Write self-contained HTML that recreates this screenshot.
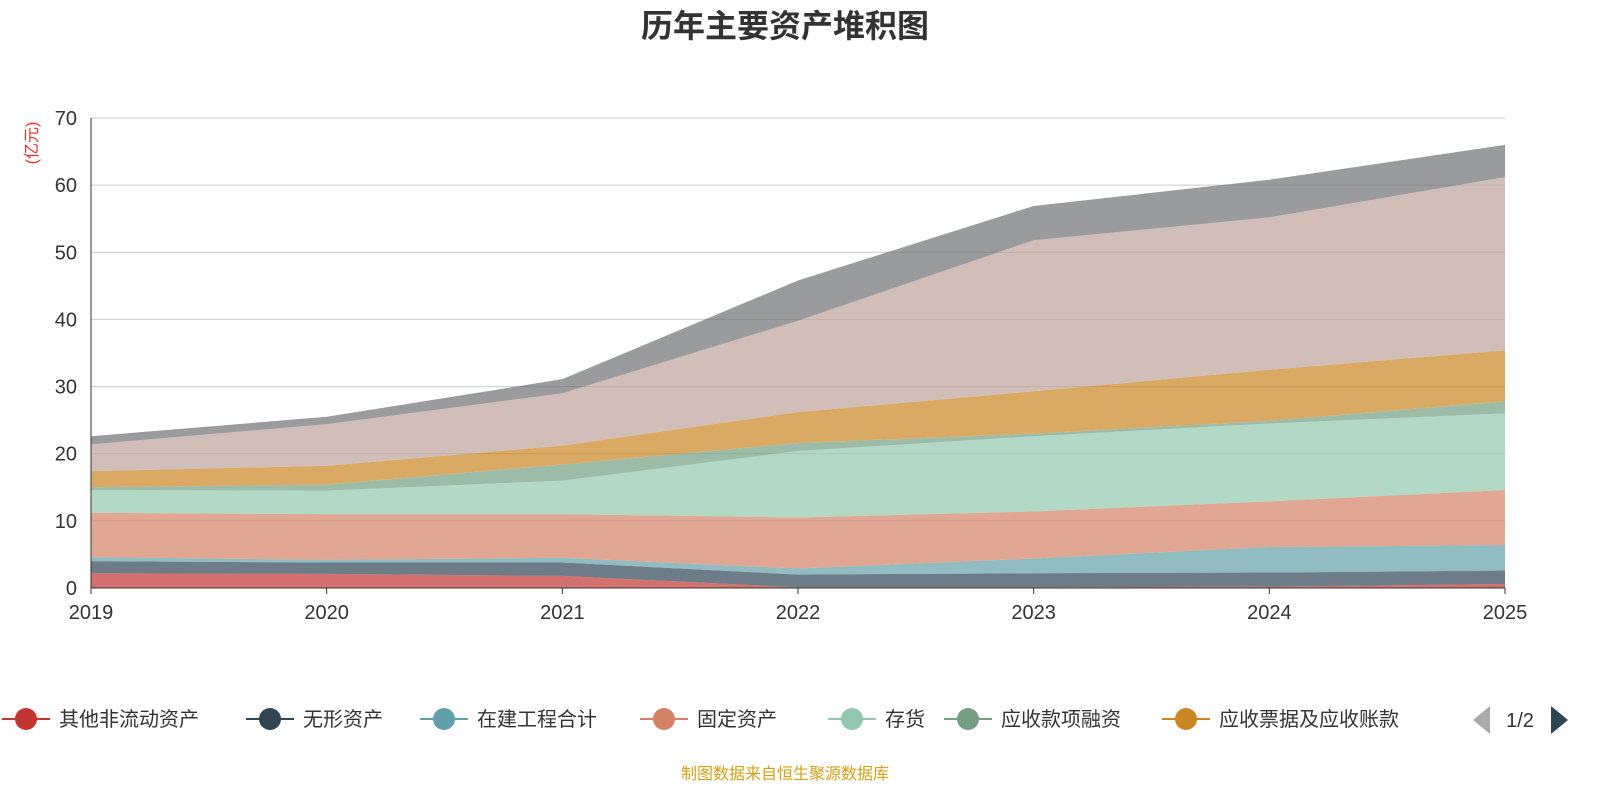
<!DOCTYPE html>
<html><head><meta charset="utf-8"><style>
body{margin:0;background:#fff;width:1600px;height:800px;overflow:hidden;font-family:"Liberation Sans","Noto Sans CJK SC",sans-serif}
</style></head><body>
<svg id="chart" width="1600" height="800" xmlns="http://www.w3.org/2000/svg" font-family="Liberation Sans, Noto Sans CJK SC, sans-serif">
<text x="785" y="37" text-anchor="middle" font-size="32" font-weight="bold" fill="#333">历年主要资产堆积图</text>
<text transform="translate(37,143) rotate(-90)" text-anchor="middle" font-size="16" fill="#e8302d">(亿元)</text>
<g id="grid"></g><g id="areas"></g><g id="axes"></g><g id="legend"></g>
<text x="785" y="779" text-anchor="middle" font-size="16" fill="#d4a017">制图数据来自恒生聚源数据库</text>
</svg>
<script>
const years = ['2019','2020','2021','2022','2023','2024','2025'];
const seriesNames = ['其他非流动资产','无形资产','在建工程合计','固定资产','存货','应收款项融资','应收票据及应收账款','货币资金','其他'];
const colors = ['#c23531','#2f4554','#61a0a8','#d48265','#91c7ae','#749f83','#ca8622','#bda29a','#6e7074'];
const s0 = [2.2,2.1,1.8,0.1,0.1,0.2,0.6];
const s1 = [1.8,1.7,2.0,1.9,2.1,2.1,2.0];
const s2 = [0.6,0.4,0.7,0.9,2.2,3.8,3.8];
const s3 = [6.6,6.8,6.5,7.6,7.0,6.8,8.2];
const s4 = [3.4,3.5,5.0,9.9,11.2,11.6,11.4];
const s5 = [0.4,0.9,2.4,1.2,0.4,0.4,1.8];
const s6 = [2.4,2.8,2.8,4.6,6.3,7.6,7.6];
const s7 = [4.0,6.2,7.8,13.6,22.5,22.7,25.8];
const s8 = [1.2,1.1,2.1,6.0,5.1,5.6,4.8];
const allSeries = [s0,s1,s2,s3,s4,s5,s6,s7,s8];
const yTicks = [0,10,20,30,40,50,60,70];
const NS='http://www.w3.org/2000/svg';
const X0=91,X1=1505,Y0=588,Y1=118,YMAX=70;
const xp=i=>X0+(X1-X0)*i/(years.length-1);
const yp=v=>Y0-(Y0-Y1)*v/YMAX;
function el(t,a,p){const e=document.createElementNS(NS,t);for(const k in a)e.setAttribute(k,a[k]);document.getElementById(p).appendChild(e);return e;}
yTicks.forEach(t=>{
  const l=el('line',{x1:X0,x2:X1,y1:yp(t),y2:yp(t),stroke:t?'#ccc':'#333','stroke-width':1},'grid');
  
  
  const tx=el('text',{x:X0-14,y:yp(t)+7,'text-anchor':'end','font-size':20,fill:'#333'},'axes');tx.textContent=t;
  
  
});
let base=years.map(()=>0);
allSeries.forEach((s,k)=>{
  const top=base.map((b,i)=>b+s[i]);
  let d='M'+top.map((v,i)=>xp(i)+','+yp(v)).join('L');
  for(let i=years.length-1;i>=0;i--)d+='L'+xp(i)+','+yp(base[i]);
  const p=el('path',{d:d+'Z',fill:colors[k],'fill-opacity':0.7},'areas');
  
  
  base=top;
});
el('line',{x1:X0,x2:X1,y1:Y0,y2:Y0,stroke:'#333'},'axes');
el('line',{x1:X0,x2:X0,y1:Y1,y2:Y0,stroke:'#333'},'axes');
years.forEach((y,i)=>{
  el('line',{x1:xp(i),x2:xp(i),y1:Y0,y2:Y0+6,stroke:'#333'},'axes');
  const t=el('text',{x:xp(i),y:619,'text-anchor':'middle','font-size':20,fill:'#333'},'axes');t.textContent=y;
  
  
});
const lx=[2,246,420,640,828,944,1162];
for(let k=0;k<7;k++){
  const g=el('g',{},'legend');
  
  
  const x=lx[k];
  const ln=document.createElementNS(NS,'line');ln.setAttribute('x1',x);ln.setAttribute('x2',x+48);ln.setAttribute('y1',719);ln.setAttribute('y2',719);ln.setAttribute('stroke',colors[k]);ln.setAttribute('stroke-width',2);g.appendChild(ln);
  const c=document.createElementNS(NS,'circle');c.setAttribute('cx',x+24);c.setAttribute('cy',719);c.setAttribute('r',11);c.setAttribute('fill',colors[k]);g.appendChild(c);
  const t=document.createElementNS(NS,'text');t.setAttribute('x',x+57);t.setAttribute('y',726);t.setAttribute('font-size',20);t.setAttribute('fill','#333');t.textContent=seriesNames[k];g.appendChild(t);
}
const pg=el('g',{},'legend');


pg.innerHTML='<polygon points="1490,706 1490,734 1473,720" fill="#aaa"/><text x="1520" y="727" text-anchor="middle" font-size="20" fill="#333">1/2</text><polygon points="1551,706 1551,734 1568,720" fill="#2f4554"/>';
</script>
</body></html>
